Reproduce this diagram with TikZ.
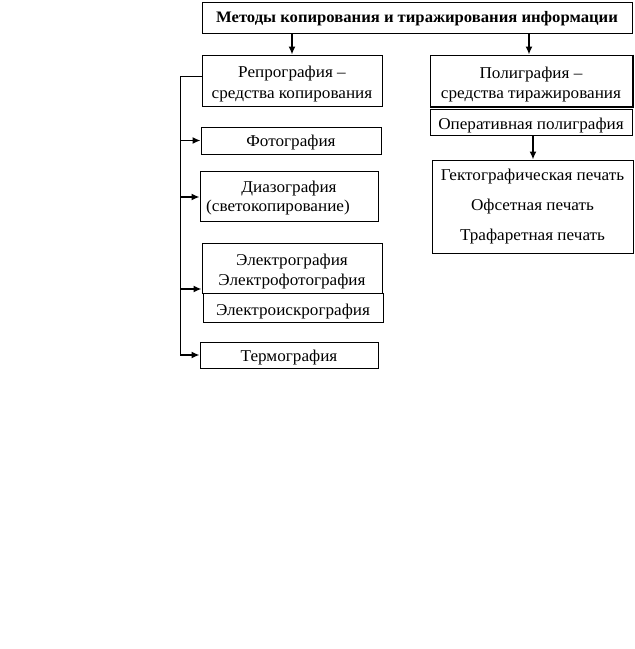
\documentclass[tikz,border=0pt]{standalone}
\usepackage{fontspec}
\setmainfont{Liberation Serif}[FakeStretch=1.04]
\usetikzlibrary{arrows.meta}
\begin{document}
\begin{tikzpicture}[x=1pt,y=-1pt,
  frame/.style={draw=black,line width=0.9pt,rectangle,inner sep=0pt},
  txt/.style={inner sep=0pt,align=center,font=\fontsize{16.5}{#1}\selectfont},
  txt/.default=20,
  conn/.style={line width=1.6pt,-{Latex[length=8pt,width=7pt]}},
  plain/.style={line width=1pt}]
\useasboundingbox (0,0) rectangle (635,649);
\fill[white] (0,0) rectangle (635,649);
% frames
\node[frame,minimum width=430pt,minimum height=31pt] (top) at (417,17.5) {};
\node[frame,minimum width=180pt,minimum height=51pt] (rep) at (292,80.5) {};
\node[frame,minimum width=202pt,minimum height=51pt] (pol) at (531,80.5) {};
\node[frame,minimum width=202pt,minimum height=26pt] (oper) at (531,122) {};
\node[frame,minimum width=201pt,minimum height=93pt] (pech) at (532.5,206.5) {};
\node[frame,minimum width=180pt,minimum height=27pt] (foto) at (291,140.5) {};
\node[frame,minimum width=178pt,minimum height=50pt] (diazo) at (289,196) {};
\node[frame,minimum width=180pt,minimum height=50pt] (elektro) at (292,268) {};
\node[frame,minimum width=180pt,minimum height=29pt] (iskro) at (293,307.5) {};
\node[frame,minimum width=178pt,minimum height=26pt] (termo) at (289,355) {};
% shadow of the Полиграфия box
\draw[line width=1pt] ([xshift=1.2pt]pol.north east) -- ([xshift=1.2pt,yshift=-1.2pt]pol.south east) -- ([yshift=-1.2pt]pol.south west);
% texts
\node[txt,font=\bfseries\fontsize{16}{20}\selectfont] (ttop) at (417,18) {\strut Методы копирования и тиражирования информации};
\node[txt=21] (trep) at (292,83.5) {\strut Репрография –\\\strut средства копирования};
\node[txt=20] (tpol) at (531,84) {\strut Полиграфия –\\\strut средства тиражирования};
\node[txt] (toper) at (531,125) {\strut Оперативная полиграфия};
\node[txt=30] (tpech) at (532.5,204) {\strut Гектографическая печать\\\strut Офсетная печать\\\strut Трафаретная печать};
\node[txt] (tfoto) at (291,142) {\strut Фотография};
\node[txt=19] (tdiazo) at (289,197.7) {\strut Диазография\\\strut(светокопирование)\hspace*{22pt}};
\node[txt=20] (telektro) at (292,271) {\strut Электрография\\\strut Электрофотография};
\node[txt] (tiskro) at (293,311) {\strut Электроискрография};
\node[txt] (ttermo) at (289,357) {\strut Термография};
% coordinates
\coordinate (v0) at (180,76);
\coordinate (v1) at (180,140.5);
\coordinate (v2) at (180,197);
\coordinate (v3) at (180,289);
\coordinate (v4) at (180,355);
% connectors
\draw[conn] (top.south -| rep.north) -- (rep.north);
\draw[conn] (top.south -| 529,0) -- (529,0 |- pol.north);
\draw[conn] (oper.south -| 533,0) -- (533,0 |- pech.north);
\draw[plain] (rep.west |- v0) -- (v0) -- (v4);
\draw[conn] (v1) -- (v1 -| foto.west);
\draw[conn] (v2) -- (v2 -| diazo.west);
\draw[conn] (v3) -- (v3 -| elektro.west);
\draw[conn] (v4) -- (v4 -| termo.west);
\end{tikzpicture}
\end{document}
